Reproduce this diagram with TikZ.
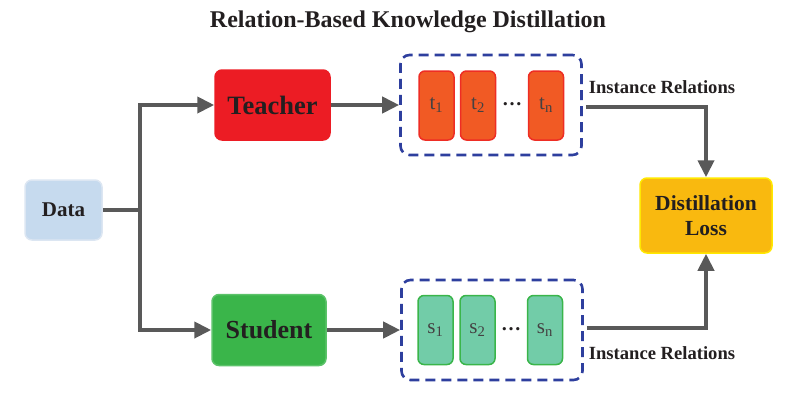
\documentclass[tikz,border=0pt]{standalone}
\usepackage{fontspec}
\setmainfont{Liberation Serif}
\usetikzlibrary{arrows.meta}
\definecolor{datafill}{HTML}{C6DAEE}
\definecolor{databord}{HTML}{DCE6F2}
\definecolor{teachred}{HTML}{EC1C24}
\definecolor{tfill}{HTML}{F15A24}
\definecolor{tbord}{HTML}{EE2D24}
\definecolor{studgreen}{HTML}{3AB54A}
\definecolor{studbord}{HTML}{5CC36A}
\definecolor{sfill}{HTML}{72CCA8}
\definecolor{lossfill}{HTML}{F9B90F}
\definecolor{lossbord}{HTML}{FFE800}
\definecolor{linegray}{HTML}{595959}
\definecolor{dashblue}{HTML}{2E3F9E}
\definecolor{txt}{HTML}{231F20}
\begin{document}
\begin{tikzpicture}[x=1pt,y=-1pt,
  box/.style={rounded corners=7pt, inner sep=0pt, line width=1.5pt, text=txt, font=\bfseries},
  cell/.style={rounded corners=6pt, inner sep=0pt, line width=1.5pt, minimum width=35pt, minimum height=69pt, text=txt!85, font=\fontsize{21}{23}\selectfont},
  group/.style={draw=dashblue, line width=2.6pt, dash pattern=on 10pt off 6pt, rounded corners=9pt, minimum width=181pt, minimum height=100pt, inner sep=0pt},
  conn/.style={draw=linegray, line width=4pt},
  arr/.style={conn, -{Triangle[length=17pt,width=16pt]}},
  lab/.style={text=txt, font=\bfseries\fontsize{18.6}{20}\selectfont}]
\useasboundingbox (0,0) rectangle (797,400);
\node[text=txt, font=\bfseries\fontsize{24}{27}\selectfont] (title) at (408,22) {Relation-Based Knowledge Distillation};
\node[box, fill=datafill, draw=databord, minimum width=77pt, minimum height=60pt, font=\bfseries\fontsize{21}{24}\selectfont] (data) at (63.5,210) {Data};
\node[box, fill=teachred, draw=teachred, minimum width=115pt, minimum height=70pt, font=\bfseries\fontsize{26.5}{29}\selectfont] (teacher) at (272.5,105) {Teacher};
\node[box, fill=studgreen, draw=studbord, minimum width=114pt, minimum height=71pt, font=\bfseries\fontsize{26}{29}\selectfont] (student) at (269,330) {Student};
\node[group] (tg) at (491,105) {};
\node[group] (sg) at (492,330) {};
\node[cell, fill=tfill, draw=tbord] (t1) at (436.5,105.5) {t\textsubscript{1}};
\node[cell, fill=tfill, draw=tbord] (t2) at (478,105.5) {t\textsubscript{2}};
\node[cell, fill=tfill, draw=tbord] (tn) at (546,105.5) {t\textsubscript{n}};
\node[font=\bfseries\fontsize{20}{22}\selectfont, text=txt] (tdots) at (512,104) {\dots};
\node[cell, fill=sfill, draw=studgreen] (s1) at (435.5,330) {s\textsubscript{1}};
\node[cell, fill=sfill, draw=studgreen] (s2) at (477.5,330) {s\textsubscript{2}};
\node[cell, fill=sfill, draw=studgreen] (sn) at (545,330) {s\textsubscript{n}};
\node[font=\bfseries\fontsize{20}{22}\selectfont, text=txt] (sdots) at (511,329) {\dots};
\node[box, fill=lossfill, draw=lossbord, minimum width=132pt, minimum height=75pt, align=center, font=\bfseries\fontsize{21.5}{25}\selectfont] (loss) at (706,215.5) {Distillation\\Loss};
\node[lab] (irt) at (662,87) {Instance Relations};
\node[lab] (irs) at (662,353) {Instance Relations};
\coordinate (j) at (140,210);
\draw[conn] (data.east) -- (j);
\draw[arr] (j) |- (teacher.west);
\draw[arr] (j) |- (student.west);
\draw[arr] (teacher.east) -- (tg.west);
\draw[arr] (student.east) -- (sg.west);
\draw[arr] ([xshift=3pt,yshift=-2pt]tg.east) -| (loss.north);
\draw[arr] ([xshift=3pt,yshift=2pt]sg.east) -| (loss.south);
\end{tikzpicture}
\end{document}
